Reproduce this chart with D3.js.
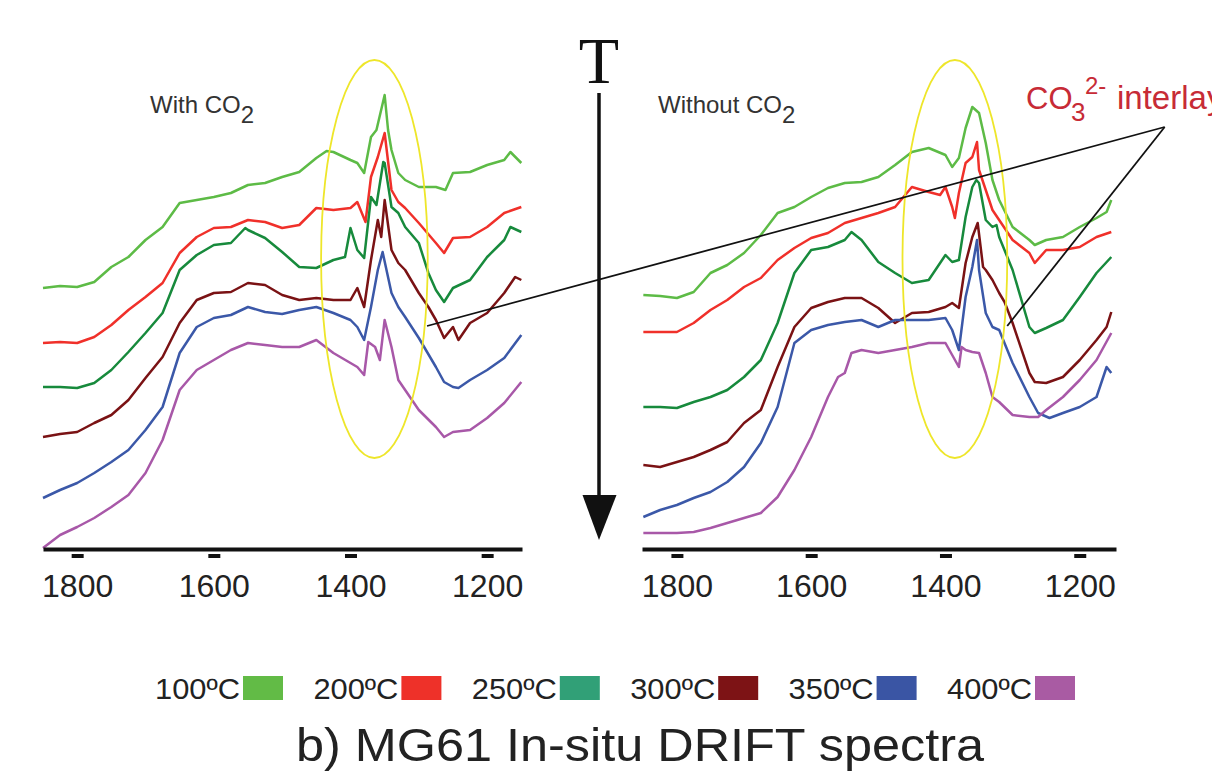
<!DOCTYPE html>
<html>
<head>
<meta charset="utf-8">
<script src="https://cdn.jsdelivr.net/npm/d3@7"></script>
<style>
  body { margin: 0; background: #fff; }
  svg { display: block; font-family: "Liberation Sans", Arial, sans-serif; }
</style>
</head>
<body>
<svg id="chart" width="1212" height="771"></svg>
<script>
// Wavenumber ticks (cm-1) and temperature labels
const wavenumberTicks = [1800, 1600, 1400, 1200];
const tempLabels = ["100ºC", "200ºC", "250ºC", "300ºC", "350ºC", "400ºC"];
const lineColors = ["#5dbb46", "#f0302a", "#178a3c", "#7a1214", "#3b58a8", "#a858a8"];
const legendColors = ["#62bb46", "#ee3129", "#31a077", "#7d1315", "#3a55a4", "#a95ba3"];

// With CO2 - [wavenumber, absorbance (a.u., stacked)]
const with100 = [[1850,261],[1825,263],[1800,262],[1775,267],[1750,282],[1725,292],[1700,309],[1675,322],[1650,346],[1625,349],[1600,352],[1575,356],[1550,364],[1525,366],[1500,372],[1475,377],[1450,391],[1435,398],[1425,397],[1400,389],[1390,386],[1380,376],[1370,412],[1362,419],[1350,454],[1345,419],[1340,399],[1330,376],[1320,369],[1300,362],[1275,362],[1261,359],[1250,376],[1225,377],[1200,384],[1175,389],[1166,397],[1150,386]];
const with200 = [[1850,206],[1825,207],[1800,206],[1775,212],[1750,224],[1725,239],[1700,252],[1675,266],[1650,296],[1625,312],[1600,321],[1575,322],[1550,329],[1525,327],[1500,321],[1475,324],[1450,341],[1425,339],[1400,341],[1390,347],[1378,327],[1370,372],[1360,392],[1350,416],[1340,359],[1330,347],[1320,341],[1300,326],[1275,306],[1263,296],[1250,311],[1225,312],[1200,322],[1175,336],[1150,342]];
const with250 = [[1850,162],[1825,162],[1800,161],[1775,166],[1750,179],[1725,197],[1700,216],[1675,236],[1650,279],[1625,294],[1600,304],[1575,306],[1554,321],[1550,319],[1525,311],[1500,297],[1475,282],[1450,281],[1425,289],[1408,292],[1400,321],[1390,299],[1380,291],[1370,352],[1362,344],[1352,387],[1350,386],[1340,342],[1330,336],[1320,322],[1300,306],[1286,276],[1275,259],[1263,247],[1250,261],[1225,269],[1200,292],[1175,309],[1166,322],[1150,317]];
const with300 = [[1850,112],[1825,115],[1800,117],[1775,126],[1750,134],[1725,149],[1700,171],[1675,192],[1650,226],[1625,249],[1600,256],[1575,257],[1550,266],[1525,264],[1500,254],[1475,249],[1450,251],[1425,249],[1400,249],[1390,261],[1380,242],[1370,289],[1360,329],[1355,312],[1350,349],[1340,299],[1330,286],[1320,279],[1300,256],[1286,242],[1275,229],[1263,211],[1250,222],[1242,209],[1225,226],[1200,236],[1175,256],[1159,272],[1150,269]];
const with350 = [[1850,51],[1825,59],[1800,66],[1775,76],[1750,87],[1725,99],[1700,119],[1675,142],[1650,196],[1625,222],[1600,231],[1575,234],[1550,242],[1525,237],[1500,235],[1475,239],[1450,242],[1425,236],[1400,229],[1390,222],[1380,209],[1370,242],[1360,279],[1353,297],[1340,256],[1330,242],[1320,232],[1300,211],[1275,182],[1263,167],[1250,162],[1242,161],[1225,169],[1200,179],[1175,191],[1150,214]];
const with400 = [[1850,1],[1825,14],[1800,22],[1775,31],[1750,42],[1725,54],[1700,76],[1675,109],[1650,159],[1625,179],[1600,189],[1575,199],[1550,206],[1525,204],[1500,202],[1475,202],[1450,209],[1425,196],[1400,186],[1390,182],[1380,174],[1374,207],[1364,202],[1357,189],[1350,229],[1340,202],[1330,169],[1320,159],[1300,139],[1275,122],[1263,112],[1250,117],[1225,119],[1200,131],[1175,146],[1150,167]];

// Without CO2
const without100 = [[1850,254],[1825,253],[1800,251],[1775,257],[1750,276],[1725,284],[1700,296],[1675,314],[1650,336],[1625,342],[1600,352],[1575,361],[1550,366],[1525,367],[1500,372],[1475,384],[1450,397],[1425,401],[1400,394],[1390,382],[1380,391],[1370,421],[1360,442],[1350,436],[1340,406],[1330,369],[1320,349],[1300,322],[1275,309],[1267,304],[1250,309],[1225,312],[1200,322],[1175,331],[1160,337],[1153,349]];
const without200 = [[1850,217],[1825,217],[1800,217],[1775,226],[1750,239],[1725,249],[1700,262],[1675,271],[1650,289],[1625,301],[1600,311],[1575,316],[1550,326],[1525,331],[1500,336],[1475,342],[1450,362],[1425,357],[1408,354],[1400,362],[1390,342],[1386,331],[1380,356],[1370,386],[1360,392],[1353,407],[1350,379],[1340,359],[1330,339],[1320,329],[1300,309],[1275,296],[1267,286],[1250,299],[1225,299],[1200,302],[1175,312],[1153,317]];
const without250 = [[1850,142],[1825,142],[1800,141],[1775,147],[1750,152],[1725,159],[1700,172],[1675,189],[1650,226],[1625,276],[1600,299],[1575,302],[1550,309],[1540,317],[1525,309],[1500,287],[1475,276],[1450,266],[1425,269],[1400,294],[1390,287],[1380,289],[1370,332],[1360,362],[1354,369],[1350,366],[1340,329],[1330,322],[1324,324],[1320,312],[1300,279],[1275,222],[1267,216],[1250,221],[1225,229],[1200,252],[1175,276],[1153,292]];
const without300 = [[1850,84],[1825,82],[1800,87],[1775,92],[1750,99],[1725,107],[1700,126],[1675,139],[1650,182],[1625,222],[1600,241],[1575,247],[1550,251],[1525,251],[1500,241],[1475,226],[1450,236],[1425,237],[1400,242],[1390,246],[1380,241],[1370,286],[1360,312],[1352,326],[1344,282],[1340,279],[1330,269],[1320,256],[1312,247],[1300,226],[1275,176],[1267,167],[1250,166],[1225,172],[1200,189],[1175,209],[1160,222],[1153,237]];
const without350 = [[1850,32],[1825,39],[1800,44],[1775,51],[1750,57],[1725,67],[1700,82],[1675,106],[1650,142],[1625,206],[1600,219],[1575,224],[1550,227],[1525,229],[1500,222],[1475,229],[1450,229],[1425,229],[1400,231],[1390,219],[1380,199],[1370,252],[1360,282],[1353,309],[1350,279],[1340,236],[1330,222],[1320,219],[1300,186],[1275,152],[1262,136],[1245,131],[1225,136],[1200,142],[1175,152],[1160,182],[1153,176]];
const without400 = [[1850,16],[1825,16],[1800,16],[1775,17],[1750,21],[1725,26],[1700,31],[1675,36],[1650,52],[1625,79],[1600,112],[1575,152],[1560,172],[1550,176],[1540,196],[1525,199],[1500,196],[1475,199],[1450,202],[1425,206],[1400,206],[1390,194],[1380,182],[1376,202],[1370,199],[1360,197],[1350,196],[1340,176],[1330,152],[1320,147],[1300,134],[1275,132],[1262,132],[1250,139],[1225,152],[1200,169],[1175,189],[1153,216]];

const svg = d3.select("#chart");

const y = d3.scaleLinear().domain([0, 490]).range([549, 59]);

const panels = [
    { title: "With CO", domain: [1850, 1149], range: [43, 522], series: [with100, with200, with250, with300, with350, with400], labelX: 150 },
    { title: "Without CO", domain: [1852, 1146], range: [642, 1116], series: [without100, without200, without250, without300, without350, without400], labelX: 658 }
];

panels.forEach(p => {
    p.x = d3.scaleLinear().domain(p.domain).range(p.range);
    const g = svg.append("g");

    const line = d3.line()
        .x(d => p.x(d[0]))
        .y(d => y(d[1]));

    g.selectAll("path.spec")
        .data(p.series)
        .join("path")
        .attr("class", "spec")
        .attr("d", line)
        .attr("fill", "none")
        .attr("stroke", (d, i) => lineColors[i])
        .attr("stroke-width", 2.5)
        .attr("stroke-linejoin", "round");

    // x axis
    const axis = d3.axisBottom(p.x)
        .tickValues(wavenumberTicks)
        .tickSize(0)
        .tickSizeOuter(0)
        .tickPadding(25)
        .tickFormat(d3.format("d"));

    const ax = g.append("g")
        .attr("transform", `translate(0,${y(0)})`)
        .call(axis);
    ax.select(".domain").attr("stroke", "#111").attr("stroke-width", 4);
    ax.selectAll(".tick text")
        .attr("font-size", 32)
        .attr("fill", "#222")
        .attr("font-family", "'Liberation Sans', Arial, sans-serif");
    ax.selectAll(".tick").append("rect")
        .attr("x", -6).attr("y", 5)
        .attr("width", 12).attr("height", 4)
        .attr("fill", "#111");

    // panel label
    const lab = g.append("text")
        .attr("x", p.labelX).attr("y", 113)
        .attr("font-size", 24)
        .attr("fill", "#333")
        .text(p.title);
    lab.append("tspan").attr("dy", 10).text("2");
});

// yellow ellipses around the carbonate band (centre, half-width in cm-1, half-height in a.u.)
const ellipses = [
    { panel: 0, center: 1365, value: 290, rxCm: 78, ryVal: 199 },
    { panel: 1, center: 1386, value: 290, rxCm: 78, ryVal: 199 }
];
ellipses.forEach(e => {
    const px = panels[e.panel].x;
    svg.append("ellipse")
        .attr("cx", px(e.center))
        .attr("cy", y(e.value))
        .attr("rx", Math.abs(px(e.center - e.rxCm) - px(e.center)))
        .attr("ry", y(0) - y(e.ryVal))
        .attr("fill", "none")
        .attr("stroke", "#eee62a")
        .attr("stroke-width", 1.8);
});

// pointer lines to the label
const apex = [panels[1].x(1073.5), y(422)];
const targets = [[panels[0].x(1288), y(223)], [panels[1].x(1308), y(223)]];
targets.forEach(t => {
    svg.append("line")
        .attr("x1", t[0]).attr("y1", t[1])
        .attr("x2", apex[0]).attr("y2", apex[1])
        .attr("stroke", "#111")
        .attr("stroke-width", 1.8);
});

// carbonate label (runs off the right edge, as in the original figure)
const co3 = svg.append("g").attr("fill", "#c72b36");
co3.append("text").attr("x", 1026).attr("y", 109).attr("font-size", 31).text("CO");
co3.append("text").attr("x", 1071).attr("y", 121).attr("font-size", 26).text("3");
co3.append("text").attr("x", 1085).attr("y", 94).attr("font-size", 24).text("2-");
co3.append("text").attr("x", 1117).attr("y", 109).attr("font-size", 33).text("interlayer");

// temperature arrow
svg.append("text")
    .attr("x", 599).attr("y", 83)
    .attr("text-anchor", "middle")
    .attr("font-family", "'Liberation Serif', 'Times New Roman', serif")
    .attr("font-size", 66)
    .attr("fill", "#111")
    .text("T");
svg.append("line")
    .attr("x1", 599).attr("y1", 93)
    .attr("x2", 599).attr("y2", 500)
    .attr("stroke", "#111")
    .attr("stroke-width", 3.5);
svg.append("path")
    .attr("d", "M582.5,495 L616.5,495 L599,540 Z")
    .attr("fill", "#111");

// legend
const legend = svg.append("g");
tempLabels.forEach((t, i) => {
    const rx = 243 + i * 158.4;
    legend.append("rect")
        .attr("x", rx).attr("y", 676)
        .attr("width", 40).attr("height", 24)
        .attr("fill", legendColors[i]);
    legend.append("text")
        .attr("x", rx - 88).attr("y", 699)
        .attr("font-size", 29)
        .attr("textLength", 85)
        .attr("lengthAdjust", "spacingAndGlyphs")
        .attr("fill", "#222")
        .text(t);
});

// caption
svg.append("text")
    .attr("x", 296).attr("y", 761)
    .attr("font-size", 47)
    .attr("textLength", 688)
    .attr("lengthAdjust", "spacingAndGlyphs")
    .attr("fill", "#222")
    .text("b) MG61 In-situ DRIFT spectra");
</script>
</body>
</html>
